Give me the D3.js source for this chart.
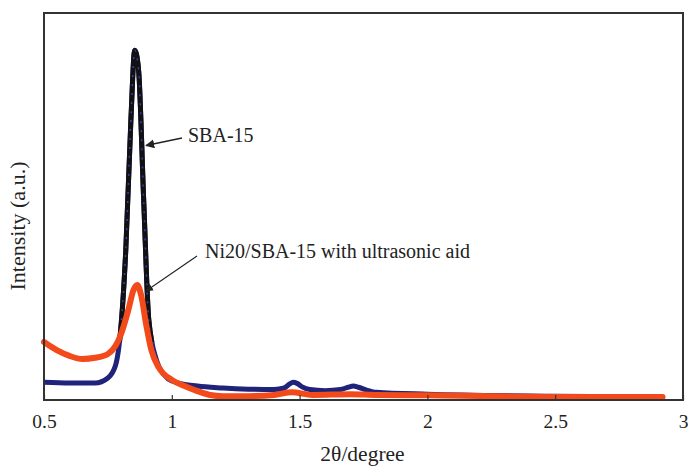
<!DOCTYPE html>
<html>
<head>
<meta charset="utf-8">
<script src="https://cdn.jsdelivr.net/npm/d3@7"></script>
<style>
  body { margin: 0; background: #fff; }
</style>
</head>
<body>
<div id="chart"></div>
<script>
// SBA-15 (blue/black) curve, intensity in arbitrary units 0..1000
let sbaX = [0.5, 0.6, 0.7, 0.75, 0.78, 0.8, 0.82, 0.84, 0.855, 0.87, 0.89, 0.91, 0.94, 0.97, 1.0, 1.1, 1.2, 1.3, 1.4, 1.44, 1.46, 1.475, 1.49, 1.51, 1.54, 1.6, 1.66, 1.69, 1.71, 1.73, 1.76, 1.8, 2.0, 2.5, 2.92];
let sbaY = [46, 44, 44, 57, 90, 181, 388, 724, 904, 853, 517, 207, 103, 65, 49, 36, 31, 28, 27, 31, 41, 46, 43, 34, 27, 24, 27, 33, 36, 33, 26, 20, 15, 10, 8];

// Ni20/SBA-15 with ultrasonic aid (orange) curve
let niX = [0.5, 0.55, 0.6, 0.65, 0.7, 0.75, 0.78, 0.8, 0.83, 0.85, 0.865, 0.88, 0.9, 0.92, 0.95, 1.0, 1.05, 1.1, 1.15, 1.2, 1.3, 1.4, 1.47, 1.55, 1.7, 1.8, 2.0, 2.5, 2.92];
let niY = [150, 129, 114, 106, 109, 119, 140, 168, 233, 284, 297, 271, 194, 129, 83, 52, 36, 23, 13, 10, 10, 13, 20, 13, 15, 13, 12, 8, 8];

let xTicks = [0.5, 1, 1.5, 2, 2.5, 3];
let labels = ["SBA-15", "Ni20/SBA-15 with ultrasonic aid"];

let width = 688, height = 466;
let plotL = 44, plotR = 683, plotT = 13, plotB = 400;
let serif = "'Liberation Serif', 'Times New Roman', Times, serif";

let svg = d3.select("#chart").append("svg")
    .attr("width", width)
    .attr("height", height);

let x = d3.scaleLinear().domain([0.5, 3]).range([plotL, plotR]);
let y = d3.scaleLinear().domain([0, 1000]).range([plotB, plotT]);

let line = d3.line()
    .x(d => x(d[0]))
    .y(d => y(d[1]))
    .curve(d3.curveMonotoneX);

let sba = sbaX.map((v, i) => [v, sbaY[i]]);
let ni = niX.map((v, i) => [v, niY[i]]);

// clip for the black peak part
svg.append("clipPath").attr("id", "peakClip")
    .append("rect")
    .attr("x", plotL).attr("y", plotT)
    .attr("width", plotR - plotL).attr("height", y(150) - plotT);

// blue base curve
svg.append("path")
    .datum(sba)
    .attr("d", line)
    .style("fill", "none")
    .style("stroke", "#1f237a")
    .style("stroke-width", 5)
    .style("stroke-linejoin", "round");

// black peak with blue dots
svg.append("path")
    .datum(sba)
    .attr("d", line)
    .attr("clip-path", "url(#peakClip)")
    .style("fill", "none")
    .style("stroke", "#111")
    .style("stroke-width", 5);
svg.append("path")
    .datum(sba)
    .attr("d", line)
    .attr("clip-path", "url(#peakClip)")
    .style("fill", "none")
    .style("stroke", "#3b3fa8")
    .style("stroke-width", 1.5)
    .style("stroke-dasharray", "2,7");

// orange curve
svg.append("path")
    .datum(ni)
    .attr("d", line)
    .style("fill", "none")
    .style("stroke", "#f24a1a")
    .style("stroke-width", 6)
    .style("stroke-linejoin", "round")
    .style("stroke-linecap", "round");

// frame
svg.append("rect")
    .attr("x", plotL).attr("y", plotT)
    .attr("width", plotR - plotL).attr("height", plotB - plotT)
    .style("fill", "none")
    .style("stroke", "#333")
    .style("stroke-width", 2);

// x axis, ticks inward
let xAxis = d3.axisBottom(x).tickValues(xTicks).tickSize(-5).tickPadding(14)
    .tickFormat(d3.format("~g"));
let gx = svg.append("g").attr("transform", "translate(0," + plotB + ")").call(xAxis);
gx.attr("font-family", serif).attr("font-size", 19.5);
gx.select(".domain").remove();
gx.selectAll(".tick line").style("stroke", "#333").style("stroke-width", 1.2);
gx.selectAll(".tick text").style("fill", "#222");

function AddText(px, py, str, anchor, size) {
    return svg.append("text")
        .attr("x", px).attr("y", py)
        .attr("text-anchor", anchor)
        .attr("font-family", serif)
        .attr("font-size", size)
        .style("fill", "#222")
        .text(str);
}

// axis titles
AddText((plotL + plotR) / 2 - 1, 461, "2θ/degree", "middle", 21.5);
AddText(0, 0, "Intensity (a.u.)", "middle", 22)
    .attr("transform", "translate(25,226) rotate(-90)");

// annotations
svg.append("defs").append("marker")
    .attr("id", "arrow")
    .attr("viewBox", "0 0 10 10")
    .attr("refX", 9).attr("refY", 5)
    .attr("markerWidth", 7).attr("markerHeight", 7)
    .attr("orient", "auto")
    .append("path")
    .attr("d", "M0,0 L10,5 L0,10 z")
    .style("fill", "#222");

svg.append("line")
    .attr("x1", 182).attr("y1", 138)
    .attr("x2", 146).attr("y2", 145.5)
    .style("stroke", "#222").style("stroke-width", 1.3)
    .attr("marker-end", "url(#arrow)");
AddText(188, 142, labels[0], "start", 20);

svg.append("line")
    .attr("x1", 197).attr("y1", 256)
    .attr("x2", 146).attr("y2", 291)
    .style("stroke", "#222").style("stroke-width", 1.1)
    .attr("marker-end", "url(#arrow)");
AddText(205, 258, labels[1], "start", 20);
</script>
</body>
</html>
